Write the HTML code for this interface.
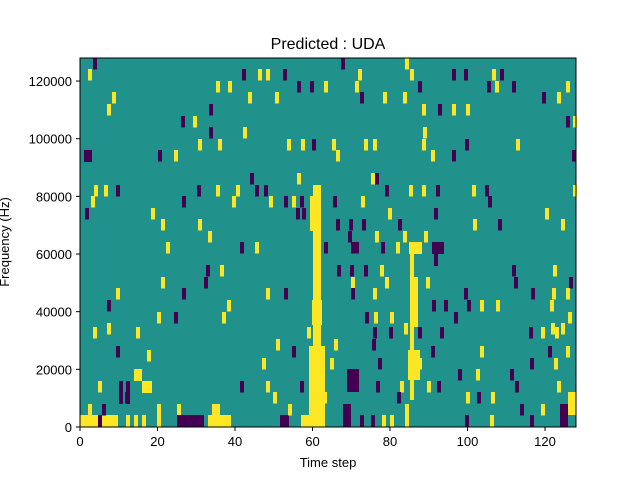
<!DOCTYPE html><html><head><meta charset="utf-8"><style>
body{margin:0;background:#fff;font-family:"Liberation Sans",sans-serif}
</style></head><body>
<svg id="s" width="640" height="480" xmlns="http://www.w3.org/2000/svg" font-family="Liberation Sans, sans-serif">
<rect x="80" y="58" width="496" height="369" fill="#21918c"/>
<g id="cells"></g>
<rect x="80" y="58" width="496" height="369" fill="none" stroke="#000" stroke-width="1"/>
<g id="ax" font-size="13" fill="#000"></g>
<text x="328" y="49" font-size="16" text-anchor="middle">Predicted : UDA</text>
<text x="328" y="467" font-size="13" text-anchor="middle">Time step</text>
<text transform="translate(9,242) rotate(-90)" font-size="13" text-anchor="middle">Frequency (Hz)</text>
</svg>
<script>
const Y="#fde725",P="#440154",N="http://www.w3.org/2000/svg";
const g=document.getElementById('cells');
function r(x,y,w,h,c){const e=document.createElementNS(N,'rect');e.setAttribute('x',x);e.setAttribute('y',y);e.setAttribute('width',w);e.setAttribute('height',h);e.setAttribute('fill',c);g.appendChild(e);}
r(309,346,16,81,Y);r(313,185,8,161,Y);r(310,196,8,35,Y);r(312,300,10,25,Y);
r(410,254,4,146,Y);r(414,277,4,50,Y);r(409,242,13,12,Y);r(408,350,12,30,Y);r(412,300,6,25,Y);
r(347,369,12,23,P);r(432,242,12,12,P);
r(80,415,18,12,Y);r(98,415,4,12,P);r(102,415,16,12,Y);r(126,415,4,12,Y);r(134,415,4,12,Y);r(142,415,4,12,Y);r(157,404,4,23,Y);
r(177,415,27,12,P);r(177,404,4,11,Y);r(208,415,23,12,Y);r(212,404,8,11,Y);
r(280,415,9,12,P);r(301,415,8,12,Y);r(343,404,8,23,P);r(360,415,4,12,P);r(371,415,4,12,P);r(382,415,4,12,Y);r(390,415,4,12,Y);
r(405,404,4,23,Y);r(465,415,4,12,P);r(490,415,4,12,Y);r(560,404,8,23,P);r(568,392,8,23,Y);
r(142,381,8,12,Y);r(134,369,8,12,Y);r(119,381,4,23,P);r(126,381,4,23,P);r(148,381,4,12,Y);
r(84,150,8,12,P);r(434,254,4,12,P);
const pts=[[93,58,P],[341,58,P],[405,58,Y],[88,69,Y],[242,69,P],[258,69,Y],[266,69,Y],[283,69,P],[358,69,Y],[410,69,Y],[452,69,P],[464,69,P],[492,69,Y],[500,69,P],
[216,81,Y],[228,81,Y],[297,81,P],[310,81,P],[324,81,Y],[355,81,Y],[418,81,P],[487,81,P],[495,81,Y],[512,81,P],[566,81,Y],
[112,92,Y],[248,92,Y],[275,92,Y],[360,92,P],[383,92,Y],[403,92,Y],[542,92,P],[557,92,Y],
[107,104,Y],[209,104,P],[422,104,Y],[438,104,P],[452,104,Y],[466,104,Y],[181,116,P],[193,116,Y],[566,116,P],[573,116,Y],
[209,127,P],[243,127,Y],[423,127,Y],[198,139,Y],[218,139,Y],[287,139,Y],[301,139,Y],[312,139,P],[332,139,Y],[364,139,Y],[373,139,Y],[422,139,Y],[465,139,P],[516,139,Y],
[158,150,P],[174,150,Y],[336,150,Y],[431,150,Y],[452,150,P],[572,150,P],
[250,173,P],[297,173,Y],[371,173,Y],[375,173,P],
[94,185,Y],[104,185,Y],[116,185,P],[197,185,P],[216,185,Y],[236,185,Y],[255,185,P],[264,185,P],[385,185,P],[409,185,Y],[422,185,Y],[436,185,P],[472,185,Y],[485,185,P],[573,185,Y],
[91,196,Y],[182,196,P],[232,196,Y],[269,196,Y],[284,196,P],[292,196,Y],[300,196,P],[333,196,P],[361,196,Y],[488,196,P],
[85,208,P],[151,208,Y],[296,208,P],[302,208,P],[388,208,Y],[434,208,P],[545,208,Y],
[161,219,Y],[198,219,Y],[336,219,P],[349,219,P],[362,219,P],[398,219,P],[473,219,Y],[498,219,P],[561,219,Y],
[208,231,Y],[348,231,P],[375,231,Y],[403,231,Y],[424,231,Y],
[166,242,Y],[240,242,P],[255,242,Y],[324,242,P],[351,242,P],[355,242,P],[381,242,P],[396,242,Y],
[206,265,P],[220,265,Y],[337,265,P],[350,265,P],[364,265,P],[380,265,Y],[512,265,P],[553,265,Y],
[161,277,Y],[204,277,P],[351,277,Y],[385,277,Y],[426,277,Y],[514,277,P],[569,277,P],
[116,288,Y],[182,288,P],[266,288,Y],[284,288,P],[351,288,P],[373,288,Y],[464,288,P],[531,288,P],[552,288,Y],[566,288,Y],
[107,300,P],[227,300,Y],[432,300,P],[444,300,P],[467,300,P],[480,300,Y],[496,300,Y],[550,300,Y],
[157,312,Y],[174,312,P],[222,312,Y],[365,312,P],[374,312,Y],[390,312,Y],[454,312,P],[568,312,Y],
[107,323,Y],[404,323,Y],[551,323,Y],[561,323,Y],[93,327,Y],[136,327,Y],[307,327,Y],[373,327,P],[389,327,P],[418,327,P],[440,327,P],[529,327,P],[541,327,Y],[555,327,Y],
[116,346,P],[276,339,Y],[292,346,P],[334,339,Y],[372,339,P],[431,346,P],[480,346,Y],[548,346,P],[566,346,Y],
[147,350,Y],[262,358,Y],[330,358,Y],[378,358,P],[418,358,Y],[458,369,P],[476,369,Y],[510,369,P],[530,358,P],[554,358,Y],
[98,381,Y],[240,381,P],[266,381,Y],[300,381,P],[376,381,P],[400,381,Y],[427,381,Y],[437,381,P],[515,381,P],[557,381,Y],
[88,404,Y],[102,404,P],[125,392,P],[273,392,Y],[288,404,Y],[323,392,Y],[397,392,P],[466,392,Y],[477,392,P],[491,392,Y],[541,404,Y],[530,415,P],[520,404,P]];
pts.forEach(p=>r(p[0],p[1],4,11.5,p[2]));
const ax=document.getElementById('ax');
function t(tag,at,txt){const e=document.createElementNS(N,tag);for(const k in at)e.setAttribute(k,at[k]);if(txt!==undefined)e.textContent=txt;ax.appendChild(e);}
for(let i=0;i<=6;i++){const x=80+i*77.5;t('line',{x1:x,x2:x,y1:427,y2:431,stroke:'#000'});t('text',{x:x,y:446,'text-anchor':'middle'},String(i*20));}
for(let i=0;i<=6;i++){const y=427-i*57.66;t('line',{x1:76,x2:80,y1:y,y2:y,stroke:'#000'});t('text',{x:72,y:y+5,'text-anchor':'end'},String(i*20000));}
</script>
</body></html>
